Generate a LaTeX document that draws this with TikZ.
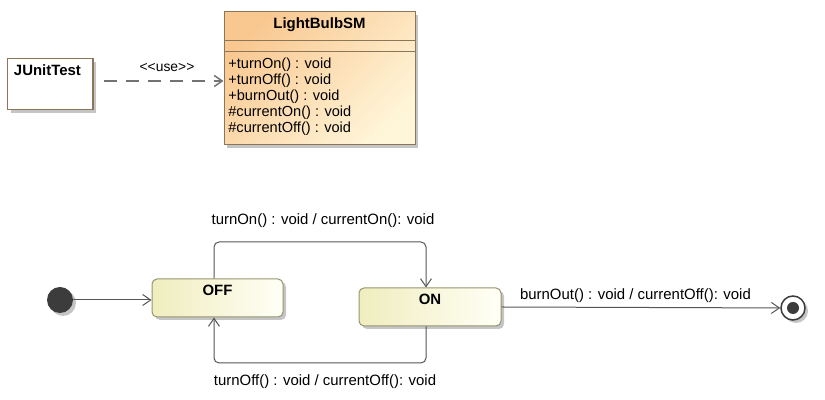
\documentclass[tikz,border=0pt]{standalone}
\usepackage{fontspec}
\setmainfont{Liberation Sans}
\usetikzlibrary{arrows.meta,shadows}

\definecolor{smorange}{RGB}{249,200,145}
\definecolor{smyellow}{RGB}{255,245,216}
\definecolor{smborder}{RGB}{140,118,88}
\definecolor{stateleft}{RGB}{240,237,190}
\definecolor{stateright}{RGB}{255,255,246}
\definecolor{stateborder}{RGB}{150,148,112}
\definecolor{linegray}{RGB}{85,85,85}
\definecolor{dotgray}{RGB}{60,60,60}

\tikzset{
  boxshadow/.style={drop shadow={shadow xshift=0.06cm,shadow yshift=-0.06cm,fill=black!45,opacity=0.5}},
  classbox/.style={draw=smborder,line width=0.02cm,inner sep=0pt,boxshadow},
  statebox/.style={draw=stateborder,line width=0.02cm,rounded corners=0.1cm,left color=stateleft,right color=stateright,
    inner ysep=0pt,text height=0.33cm,text depth=0.43cm,font=\fontsize{8.5}{10}\selectfont\bfseries,boxshadow},
  trans/.style={draw=linegray,line width=0.02cm,-{Straight Barb[length=0.16cm,width=0.22cm]}},
  translabel/.style={font=\fontsize{8.5}{10}\selectfont,inner sep=1pt}
}

\begin{document}
\begin{tikzpicture}
                    \useasboundingbox (0,0) rectangle (16.5,8);
                    {\fontsize{8.5}{10}\selectfont

                    % Marking class JUnitTest
                    \node [classbox,fill=white,minimum width=1.70cm,minimum height=1.02cm,text width=1.46cm,align=left,
                      inner xsep=0.12cm,text height=0.33cm,text depth=0.69cm,font=\fontsize{8.5}{10}\selectfont\bfseries]
                      (junit) at (1.01,6.31) {JUnitTest};%

                    % Marking class LightBulbSM
                    \node [classbox,top color=smorange,bottom color=smyellow,shading angle=45,
                      minimum width=3.82cm,minimum height=2.66cm] (sm) at (6.39,6.43) {};%
                    \node [font=\fontsize{8.5}{10}\selectfont\bfseries] (smname) at (6.39,7.50) {LightBulbSM};%

                    % Drawing compartments of LightBulbSM
                    \draw [draw=smborder,line width=0.02cm] (sm.west |- 0,7.18) -- (sm.east |- 0,7.18);%
                    \draw [draw=smborder,line width=0.02cm] (sm.west |- 0,6.96) -- (sm.east |- 0,6.96);%

                    % Marking operations of LightBulbSM
                    \node [anchor=north west,inner sep=0pt,align=left,font=\fontsize{8.3}{9.1}\selectfont] (smops) at (4.56,6.84)
                      {+turnOn() : void\\+turnOff() : void\\+burnOut() : void\\\#currentOn() : void\\\#currentOff() : void};%

                    % Drawing dependency junit sm
                    \coordinate (usestart) at (2.08,6.38);
                    \draw [draw=black!55,line width=0.03cm,dash pattern=on 0.26cm off 0.18cm,
                      -{Straight Barb[length=0.16cm,width=0.22cm]}] (usestart) -- (usestart -| sm.west);%
                    \node [font=\fontsize{7.9}{9}\selectfont] (uselabel) at (3.34,6.64) {<\kern0pt<use>\kern0pt>};%

                    % Marking initial state
                    \node [circle,fill=dotgray,minimum size=0.52cm,inner sep=0pt,boxshadow] (init) at (1.20,2.00) {};%

                    % Marking state OFF
                    \node [statebox,minimum width=2.62cm,minimum height=0.76cm] (off) at (4.35,2.04) {OFF};%

                    % Marking state ON
                    \node [statebox,minimum width=2.84cm,minimum height=0.76cm] (on) at (8.60,1.86) {ON};%

                    % Marking final state
                    \node [circle,draw=dotgray,fill=white,line width=0.03cm,minimum size=0.48cm,inner sep=0pt,boxshadow] (final) at (15.86,1.84) {};%
                    \fill [dotgray] (final) circle (0.12);%

                    % Drawing transition init off
                    \draw [trans] (init) -- (init -| off.west);%

                    % Drawing transition off on
                    \coordinate (topmid) at (6.40,3.16);
                    \draw [trans,rounded corners=0.1cm] ([xshift=-0.07cm]off.north) |- (topmid) -| ([xshift=-0.08cm]on.north);%
                    \node [translabel] (toplabel) at (6.46,3.58) {turnOn() : void / currentOn(): void};%

                    % Drawing transition on off
                    \coordinate (botmid) at (6.40,0.74);
                    \draw [trans,rounded corners=0.1cm] ([xshift=-0.08cm]on.south) |- (botmid) -| ([xshift=-0.07cm]off.south);%
                    \node [translabel] (botlabel) at (6.50,0.36) {turnOff() : void / currentOff(): void};%

                    % Drawing transition on final
                    \draw [trans] (on.east) -- (final);%
                    \node [translabel,anchor=west] (burnlabel) at (10.36,2.08) {burnOut() : void / currentOff(): void};%
                    }
\end{tikzpicture}
\end{document}
